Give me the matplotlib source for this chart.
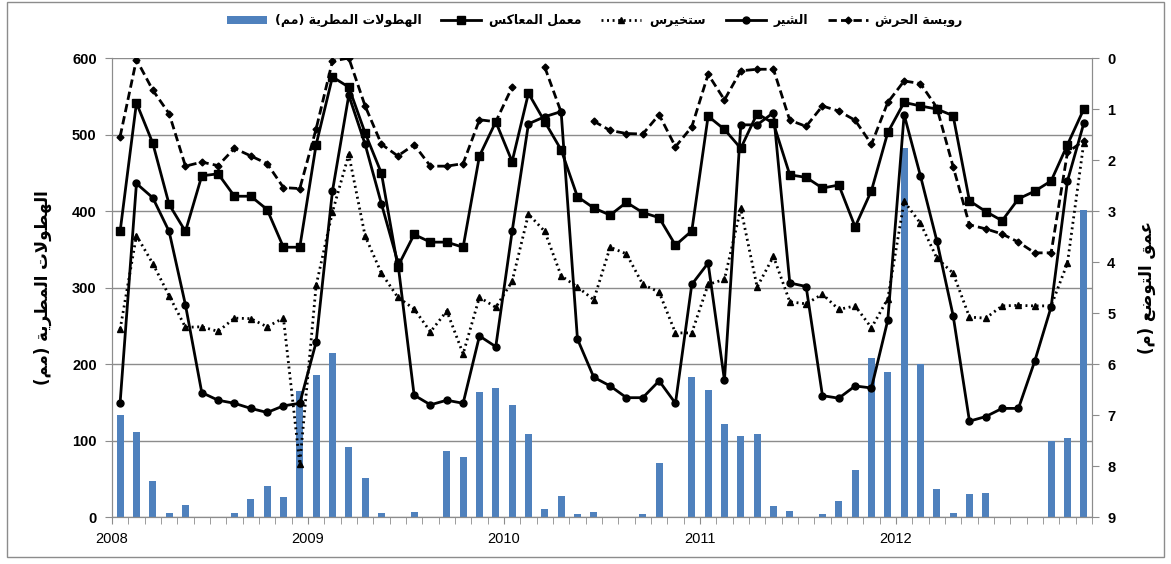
import numpy as np
import matplotlib.pyplot as plt
from matplotlib.patches import Rectangle

nan = np.nan

years = ["2008", "2009", "2010", "2011", "2012"]

# monthly rainfall (mm), Jan 2008 .. Dec 2012
rain_mm = [133, 111, 47, 5, 16, 0, 0, 5, 24, 40, 26, 165,
           186, 215, 91, 51, 5, 0, 7, 0, 86, 79, 163, 169,
           147, 108, 10, 27, 4, 7, 0, 0, 4, 70, 0, 183,
           166, 121, 106, 109, 15, 8, 0, 4, 21, 61, 208, 190,
           483, 200, 37, 5, 30, 32, 0, 0, 0, 100, 103, 402]

# water level depth (m) per well
ruwaysa = [1.54, 0.03, 0.63, 1.09, 2.12, 2.04, 2.11, 1.77, 1.92, 2.07, 2.54, 2.56,
           1.39, 0.06, 0.00, 0.94, 1.69, 1.92, 1.70, 2.12, 2.12, 2.07, 1.21, 1.25,
           0.57, nan, 0.18, 1.06, nan, 1.24, 1.42, 1.48, 1.49, 1.11, 1.74, 1.35,
           0.32, 0.82, 0.25, 0.22, 0.22, 1.22, 1.34, 0.94, 1.04, 1.22, 1.69, 0.87,
           0.45, 0.50, 0.97, 2.13, 3.27, 3.35, 3.45, 3.61, 3.82, 3.82, 1.85, 1.62]

shir = [6.76, 2.46, 2.74, 3.40, 4.84, 6.56, 6.71, 6.77, 6.87, 6.95, 6.82, 6.77,
        5.57, 2.61, 0.73, 1.69, 2.86, 4.00, 6.61, 6.80, 6.71, 6.77, 5.45, 5.66,
        3.40, 1.29, 1.15, 1.05, 5.51, 6.26, 6.43, 6.66, 6.66, 6.33, 6.77, 4.44,
        4.02, 6.32, 1.31, 1.31, 1.07, 4.41, 4.48, 6.62, 6.67, 6.43, 6.47, 5.14,
        1.11, 2.31, 3.58, 5.05, 7.12, 7.03, 6.87, 6.87, 5.94, 4.88, 2.41, 1.28]

stakhirs = [5.32, 3.48, 4.03, 4.66, 5.28, 5.27, 5.36, 5.10, 5.11, 5.27, 5.10, 7.96,
            4.46, 3.02, 1.89, 3.49, 4.22, 4.69, 4.92, 5.37, 4.96, 5.80, 4.69, 4.89,
            4.38, 3.06, 3.40, 4.27, 4.49, 4.74, 3.71, 3.84, 4.44, 4.59, 5.39, 5.39,
            4.44, 4.34, 2.95, 4.49, 3.89, 4.78, 4.82, 4.63, 4.93, 4.86, 5.29, 4.72,
            2.81, 3.24, 3.92, 4.22, 5.08, 5.10, 4.86, 4.85, 4.86, 4.86, 4.02, 1.66]

maamal = [3.40, 0.88, 1.67, 2.87, 3.40, 2.31, 2.27, 2.71, 2.71, 2.97, 3.71, 3.71,
          1.70, 0.37, 0.57, 1.47, 2.26, 4.09, 3.46, 3.61, 3.61, 3.71, 1.92, 1.25,
          2.03, 0.69, 1.25, 1.80, 2.72, 2.94, 3.08, 2.83, 3.03, 3.13, 3.67, 3.39,
          1.14, 1.40, 1.77, 1.09, 1.28, 2.29, 2.34, 2.55, 2.49, 3.31, 2.60, 1.46,
          0.87, 0.94, 1.00, 1.13, 2.80, 3.01, 3.19, 2.76, 2.61, 2.41, 1.70, 1.00]

# arabic letter -> (isolated form code, number of forms)
FORMS = {
    'ا': (0xFE8D, 2), 'ة': (0xFE93, 2), 'ت': (0xFE95, 4), 'ح': (0xFEA1, 4),
    'خ': (0xFEA5, 4), 'ر': (0xFEAD, 2), 'س': (0xFEB1, 4), 'ش': (0xFEB5, 4),
    'ض': (0xFEBD, 4), 'ط': (0xFEC1, 4), 'ع': (0xFEC9, 4), 'ق': (0xFED5, 4),
    'ك': (0xFED9, 4), 'ل': (0xFEDD, 4), 'م': (0xFEE1, 4), 'ه': (0xFEE9, 4),
    'و': (0xFEED, 2), 'ي': (0xFEF1, 4),
}


def ar(text):
    """join arabic letters and lay them out right to left"""
    def joins_next(c):
        return c in FORMS and FORMS[c][1] == 4
    res = []
    i = 0
    n = len(text)
    while i < n:
        c = text[i]
        if c not in FORMS:
            res.append(c)
            i += 1
            continue
        conn_prev = i > 0 and joins_next(text[i - 1])
        if c == 'ل' and i + 1 < n and text[i + 1] == 'ا':
            res.append(chr(0xFEFC if conn_prev else 0xFEFB))
            i += 2
            continue
        conn_next = joins_next(c) and i + 1 < n and text[i + 1] in FORMS
        base = FORMS[c][0]
        if conn_prev and conn_next:
            code = base + 3
        elif conn_prev:
            code = base + 1
        elif conn_next:
            code = base + 2
        else:
            code = base
        res.append(chr(code))
        i += 1
    vis = ''.join(reversed(res))
    return vis.translate(str.maketrans('()', ')('))


plt.rcParams['font.family'] = ['Liberation Sans', 'DejaVu Sans']
arfont = ['DejaVu Sans']
grey = '#8c8c8c'

fig = plt.figure(figsize=(11.71, 5.64), dpi=100)
ax = fig.add_axes([0.0956, 0.0833, 0.8369, 0.8138])
ax2 = ax.twinx()

x = np.arange(len(rain_mm))
bars = ax.bar(x, rain_mm, width=0.42, color='#4f81bd', zorder=2)
ax.set_xlim(-0.5, len(rain_mm) - 0.5)
ax.set_ylim(0, 600)
ax.set_yticks(range(0, 601, 100))
ax.yaxis.grid(True, color=grey, lw=1)
ax.set_axisbelow(True)

ax.set_xticks(np.arange(len(years)) * 12 - 0.5)
ax.set_xticklabels(years, fontsize=10.5)
ax.set_xticks(np.arange(len(rain_mm) + 1) - 0.5, minor=True)
ax.tick_params(axis='x', which='both', length=5, color=grey, pad=6, direction='out')
ax.tick_params(axis='y', length=5, color=grey, pad=6, labelsize=10.5)
for lab in ax.get_yticklabels():
    lab.set_fontweight('bold')

ax.spines['top'].set_visible(False)
ax2.spines['top'].set_visible(False)
for s in ['left', 'bottom', 'right']:
    ax.spines[s].set_color(grey)
    ax2.spines[s].set_color(grey)

lw = 2
l_ruw, = ax2.plot(x, ruwaysa, color='black', lw=lw, ls=(0, (3, 1.5)),
                  marker='D', ms=3.5, zorder=3)
l_shir, = ax2.plot(x, shir, color='black', lw=lw, ls='-', marker='o', ms=5, zorder=3)
l_stak, = ax2.plot(x, stakhirs, color='black', lw=lw, ls=(0, (0.7, 1.3)),
                   marker='^', ms=5, zorder=3)
l_maam, = ax2.plot(x, maamal, color='black', lw=lw, ls='-', marker='s', ms=5.5, zorder=3)
ax2.set_ylim(9, 0)
ax2.set_yticks(range(0, 10))
ax2.tick_params(axis='y', length=5, color=grey, pad=6, labelsize=10.5)
for lab in ax2.get_yticklabels():
    lab.set_fontweight('bold')

ax.set_ylabel(ar('الهطولات المطرية (مم)'), family=arfont, fontsize=12,
              fontweight='bold', labelpad=14)
ax2.set_ylabel(ar('عمق التوضع (م)'), family=arfont, fontsize=12,
               fontweight='bold', rotation=90, labelpad=16)

handles = [bars, l_maam, l_stak, l_shir, l_ruw]
labels = [ar('الهطولات المطرية (مم)'), ar('معمل المعاكس'), ar('ستخيرس'),
          ar('الشير'), ar('رويسة الحرش')]
fig.legend(handles, labels, loc='center', bbox_to_anchor=(0.508, 0.963),
           ncol=5, frameon=False, handlelength=3.2, columnspacing=1.6,
           handletextpad=0.6, numpoints=1,
           prop={'family': arfont, 'weight': 'bold', 'size': 9})

# outer border of the chart area
fig.patches.append(Rectangle((0.006, 0.012), 0.988, 0.985, transform=fig.transFigure,
                             fill=False, edgecolor=grey, lw=1))

fig.savefig('out.png', dpi=100)
